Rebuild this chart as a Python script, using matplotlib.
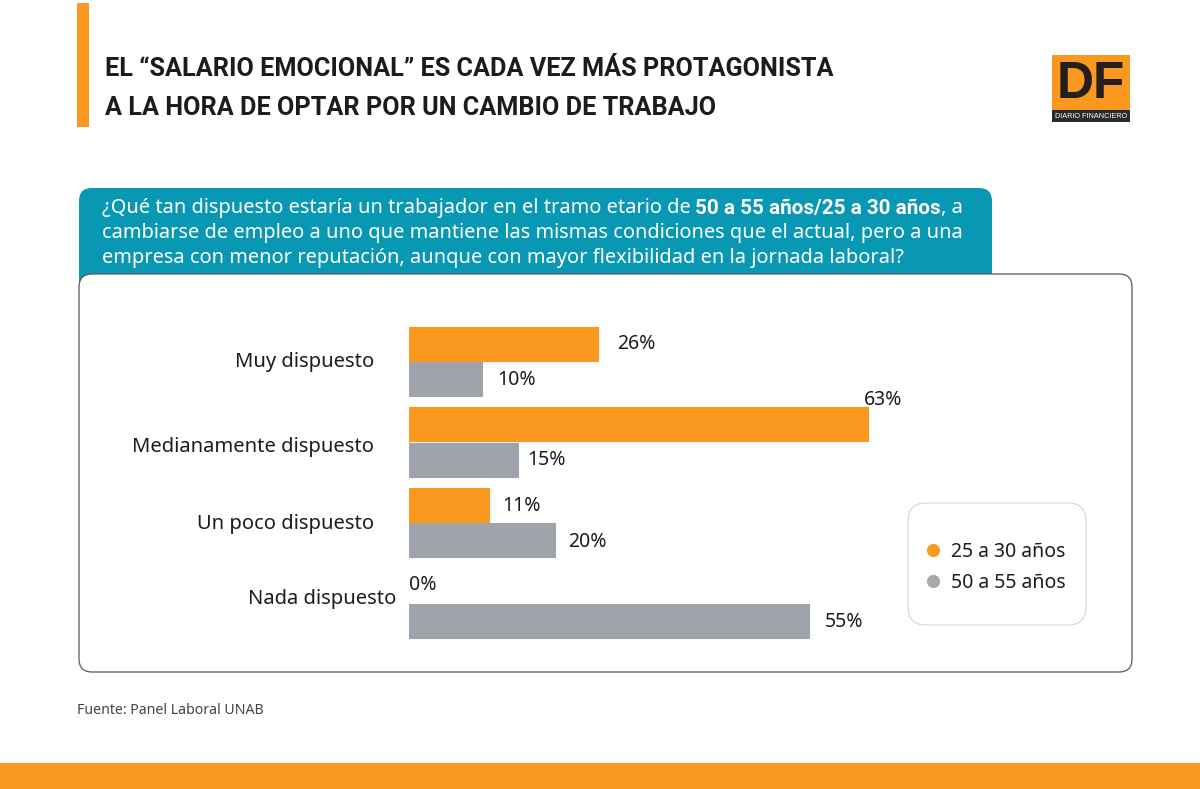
import numpy as np
import matplotlib
matplotlib.use('Agg')
import matplotlib.pyplot as plt
from matplotlib.patches import FancyBboxPatch, Rectangle

categories = ['Muy dispuesto', 'Medianamente dispuesto', 'Un poco dispuesto', 'Nada dispuesto']
young = [26, 63, 11, 0]
older = [10, 15, 20, 55]
series_names = ['25 a 30 años', '50 a 55 años']

#colors
orange = '#fa9820'
gray = '#9ea4a9'
teal = '#0898b4'
ink = '#1c1c1c'

plt.rcParams['font.family'] = ['Noto Sans', 'DejaVu Sans']
bold_font = ['Roboto', 'DejaVu Sans']
logo_font = ['Liberation Sans']

W, H = 1200, 789
fig = plt.figure(figsize=(W / 100, H / 100), dpi=100, facecolor='white')

# background layer in pixel coords
bg = fig.add_axes([0, 0, 1, 1])
bg.set_xlim(0, W)
bg.set_ylim(H, 0)
bg.axis('off')

def box(x0, y0, x1, y1, r, fc, ec='none', lw=1, z=1):
    p = FancyBboxPatch((x0 + r, y0 + r), x1 - x0 - 2 * r, y1 - y0 - 2 * r,
                       boxstyle='round,pad=%f,rounding_size=%f' % (r, r),
                       fc=fc, ec=ec, lw=lw, zorder=z)
    bg.add_patch(p)

# title block
bg.add_patch(Rectangle((77, 3), 12, 124, fc=orange, ec='none'))
bg.text(105, 69, 'EL “SALARIO EMOCIONAL” ES CADA VEZ MÁS PROTAGONISTA', fontsize=18.2,
        fontweight='bold', family=bold_font, color=ink, va='center', ha='left')
bg.text(105, 108, 'A LA HORA DE OPTAR POR UN CAMBIO DE TRABAJO', fontsize=18.2,
        fontweight='bold', family=bold_font, color=ink, va='center', ha='left')

# logo
bg.add_patch(Rectangle((1052, 55), 78, 67, fc=orange, ec='none'))
bg.add_patch(Rectangle((1052, 110), 78, 12, fc='#2a2a2a', ec='none'))
bg.text(1091, 84, 'DF', fontsize=37, fontweight='bold', color='#241f1c', ha='center', va='center',
        family=logo_font)
bg.text(1091, 116, 'DIARIO FINANCIERO', fontsize=5.2, color='white', ha='center', va='center',
        family=['Liberation Sans'])

# question banner and white panel
box(79, 188, 992, 290, 13, teal, z=1)
box(79, 274, 1132, 672, 13, 'white', ec='#5a5a5a', lw=0.9, z=2)

q_size = 14.4
bg.text(102, 208, '¿Qué tan dispuesto estaría un trabajador en el tramo etario de ',
        fontsize=q_size, color='white', va='center', ha='left', zorder=3)
bg.text(695, 208, '50 a 55 años/25 a 30 años', fontsize=14.9, fontweight='bold', family=bold_font,
        color='white', va='center', ha='left', zorder=3)
bg.text(941, 208, ', a', fontsize=q_size, color='white', va='center', ha='left', zorder=3)
bg.text(102, 233, 'cambiarse de empleo a uno que mantiene las mismas condiciones que el actual, pero a una',
        fontsize=q_size, color='white', va='center', ha='left', zorder=3)
bg.text(102, 258, 'empresa con menor reputación, aunque con mayor flexibilidad en la jornada laboral?',
        fontsize=q_size, color='white', va='center', ha='left', zorder=3)

# legend card
box(908, 503, 1086, 625, 18, 'white', ec='#d6d6d6', lw=0.8, z=3)
bg.scatter([933], [550], s=90, color=orange, zorder=4, lw=0)
bg.scatter([933], [581], s=90, color='#a9a9a9', zorder=4, lw=0)
bg.text(951, 552, series_names[0], fontsize=14, color=ink, va='center', ha='left', zorder=4)
bg.text(951, 583, series_names[1], fontsize=14, color=ink, va='center', ha='left', zorder=4)

# footer
bg.text(77, 711, 'Fuente: Panel Laboral UNAB', fontsize=10.2, color='#444444', va='center', ha='left')
bg.add_patch(Rectangle((0, 763), W, 26, fc=orange, ec='none'))

# bars
ax = fig.add_axes([409 / W, 1 - 643.25 / H, 728 / W, 322 / H], zorder=5)
ax.patch.set_alpha(0)
ax.set_xlim(0, 100)
ax.set_ylim(3.5, -0.5)
ax.axis('off')

y = np.arange(len(categories))
off = 0.22
bh = 0.42
b1 = ax.barh(y - off, young, height=bh, color=orange, edgecolor=orange, lw=0.8, joinstyle='round')
b2 = ax.barh(y + off, older, height=bh, color=gray, edgecolor=gray, lw=0.8, joinstyle='round')
# zero bar should not show its outline
for bar, v in zip(b1, young):
    if v == 0:
        bar.set_visible(False)

# label offsets follow the original, which is hand placed
young_off = [(19, 0), (-4, 24), (13, -1), (0, 0)]
older_off = [(15, -1), (9, 0), (14, -2), (15, -1)]
for i in range(len(categories)):
    ax.annotate('%d%%' % young[i], (young[i], y[i] - off), xytext=young_off[i], textcoords='offset pixels',
                fontsize=14, color=ink, va='center', ha='left')
    ax.annotate('%d%%' % older[i], (older[i], y[i] + off), xytext=older_off[i], textcoords='offset pixels',
                fontsize=14, color=ink, va='center', ha='left')

# category labels sit left of the axis, the last one closer
label_off = [(-35, -1), (-35, -5), (-35, -2), (-13, 4)]
for i, c in enumerate(categories):
    ax.annotate(c, (0, y[i]), xytext=label_off[i], textcoords='offset pixels',
                fontsize=14.5, color=ink, va='center', ha='right')

fig.savefig('out.png', dpi=100)
